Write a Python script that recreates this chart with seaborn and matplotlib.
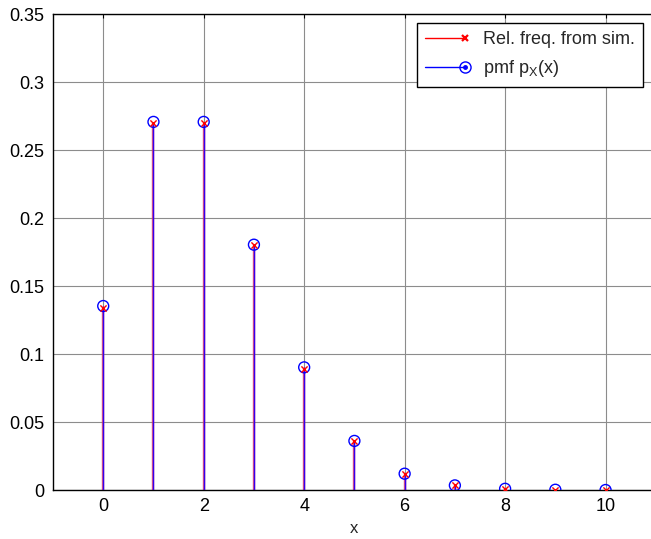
import numpy as np
import matplotlib
matplotlib.use("Agg")
import matplotlib.pyplot as plt
from matplotlib.lines import Line2D
from matplotlib.legend_handler import HandlerBase
import seaborn as sns

# values
x_vals = [0, 1, 2, 3, 4, 5, 6, 7, 8, 9, 10]
pmf_vals = [0.1353, 0.2707, 0.2707, 0.1804, 0.0902, 0.0361, 0.0120, 0.0034, 0.0009, 0.0002, 0.0000]
sim_vals = [0.1340, 0.2700, 0.2700, 0.1800, 0.0890, 0.0360, 0.0120, 0.0036, 0.0010, 0.0003, 0.0000]
y_ticks = [0, 0.05, 0.1, 0.15, 0.2, 0.25, 0.3, 0.35]
y_labels = ['0', '0.05', '0.1', '0.15', '0.2', '0.25', '0.3', '0.35']
x_ticks = [0, 2, 4, 6, 8, 10]

sns.set_style("white")
plt.rcParams['font.family'] = ['Liberation Sans', 'DejaVu Sans']
plt.rcParams['mathtext.fontset'] = 'custom'
plt.rcParams['mathtext.rm'] = 'Liberation Sans'
plt.rcParams['mathtext.it'] = 'Liberation Sans'


class EndMarkerHandler(HandlerBase):
    # line across the handle box, marker(s) only at its right end
    def __init__(self, color, markers):
        super().__init__()
        self.color = color
        self.markers = markers

    def create_artists(self, legend, orig_handle, xdescent, ydescent,
                       width, height, fontsize, trans):
        y = height / 2 - ydescent
        x0, x1 = -xdescent, width - xdescent
        arts = [Line2D([x0, x1], [y, y], color=self.color, lw=1.0, transform=trans)]
        for mk in self.markers:
            m = Line2D([x1], [y], lw=0, transform=trans, **mk)
            arts.append(m)
        return arts


fig = plt.figure(figsize=(6.51, 5.39), dpi=100)
ax = fig.add_axes([0.0814, 0.0909, 0.926, 0.883])

# stems: simulation (red) under pmf (blue)
ax.vlines(x_vals, 0, sim_vals, color='#e03060', lw=1.7, alpha=0.8, zorder=2)
ax.vlines(x_vals, 0, pmf_vals, color='#3300f0', lw=1.0, zorder=3)

sns.scatterplot(x=x_vals, y=pmf_vals, ax=ax, marker='o', s=62, facecolor='none',
                edgecolor='blue', linewidth=1.0, zorder=4, legend=False)
sns.scatterplot(x=x_vals, y=sim_vals, ax=ax, marker='x', s=20, color='red',
                linewidth=1.0, zorder=5, legend=False)

ax.set_xlim(-1, 11)
ax.set_ylim(0, 0.35)
ax.set_xticks(x_ticks)
ax.set_yticks(y_ticks)
ax.set_yticklabels(y_labels)
ax.grid(True, color='#8c8c8c', lw=0.8)
ax.set_axisbelow(True)
ax.tick_params(direction='in', top=True, right=True, length=3, width=0.8,
               labelsize=13, colors='black')
ax.tick_params(axis='y', pad=6)
ax.tick_params(axis='x', pad=6)
for s in ax.spines.values():
    s.set_color('black')
    s.set_linewidth(1.0)
ax.set_xlabel('x', fontsize=12, labelpad=4)

h_sim = Line2D([], [], color='red')
h_pmf = Line2D([], [], color='blue')
handlers = {
    h_sim: EndMarkerHandler('red', [dict(marker='x', markersize=4, markeredgewidth=1.6,
                                         color='red')]),
    h_pmf: EndMarkerHandler('blue', [dict(marker='o', markersize=8, markerfacecolor='none',
                                          markeredgecolor='blue', markeredgewidth=1.0),
                                     dict(marker='o', markersize=2.5, color='blue')]),
}
leg = fig.legend([h_sim, h_pmf], ['Rel. freq. from sim.', r'pmf p$_X$(x)'],
                 loc='upper left', bbox_to_anchor=(417 / 651, 1 - 23 / 539),
                 handler_map=handlers, fontsize=13, frameon=True, fancybox=False,
                 edgecolor='black', framealpha=1, borderpad=0.45, handlelength=2.2,
                 handletextpad=1.0, labelspacing=0.55, borderaxespad=0)
leg.get_frame().set_linewidth(1.0)

fig.savefig('out.png', dpi=100)
